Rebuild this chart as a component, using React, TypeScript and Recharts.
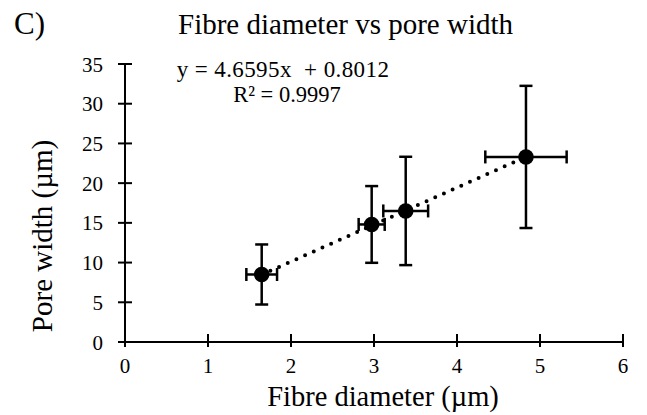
import React from 'react';
import { ScatterChart, Scatter, XAxis, YAxis, ErrorBar, ReferenceLine, Label } from 'recharts';

const fibreDiameter = [1.647, 2.972, 3.382, 4.831];
const poreWidth = [8.5, 14.8, 16.5, 23.3];
const fibreDiameterErr = [0.185, 0.157, 0.27, 0.49];
const poreWidthErr = [3.78, 4.83, 6.82, 8.95];
const xTicks = [0, 1, 2, 3, 4, 5, 6];
const yTicks = [0, 5, 10, 15, 20, 25, 30, 35];
const trendSlope = 4.6595;
const trendIntercept = 0.8012;
const rSquared = 0.9997;
const chartTitle = 'Fibre diameter vs pore width';
const panelLabel = 'C)';
const xLabel = 'Fibre diameter (µm)';
const yLabel = 'Pore width (µm)';

const data = fibreDiameter.map((x, i) => ({
  x,
  y: poreWidth[i],
  ex: fibreDiameterErr[i],
  ey: poreWidthErr[i],
}));
const xLo = Math.min(...fibreDiameter);
const xHi = Math.max(...fibreDiameter);
const trendSegment = [
  { x: xLo, y: trendSlope * xLo + trendIntercept },
  { x: xHi, y: trendSlope * xHi + trendIntercept },
];

const FONT = "'Liberation Serif', 'Times New Roman', serif";
const txt = (size: number): React.CSSProperties => ({ fontFamily: FONT, fontSize: size, fill: '#000' });

const XTick = (props: any) => {
  const { x, y, payload } = props;
  return (
    <g>
      <line x1={x} x2={x} y1={y - 13} y2={y} stroke="#000" strokeWidth={2} />
      <text x={x} y={y + 26} textAnchor="middle" style={txt(21)}>
        {payload.value}
      </text>
    </g>
  );
};

const YTick = (props: any) => {
  const { x, y, payload } = props;
  return (
    <g>
      <line x1={x} x2={x + 14} y1={y} y2={y} stroke="#000" strokeWidth={2} />
      <text x={x - 15} y={y + 7.5} textAnchor="end" style={txt(21)}>
        {payload.value}
      </text>
    </g>
  );
};

const Marker = (props: any) => <circle cx={props.cx} cy={props.cy} r={7.8} fill="#000" />;

export default function App() {
  return (
    <div style={{ position: 'absolute', left: 0, top: 0, width: 647, height: 415, background: '#fff', fontFamily: FONT }}>
      <ScatterChart width={647} height={415} margin={{ top: 64, right: 24, bottom: 0, left: 0 }} style={{ fontFamily: FONT }}>
        <XAxis
          type="number"
          dataKey="x"
          domain={[0, 6]}
          ticks={xTicks}
          interval={0}
          height={73}
          tickSize={5}
          tickMargin={0}
          tickLine={false}
          tick={<XTick />}
          axisLine={{ stroke: '#000', strokeWidth: 2 }}
        >
          <Label
            content={() => (
              <text x={383} y={405.5} textAnchor="middle" style={txt(28.5)}>
                {xLabel}
              </text>
            )}
          />
        </XAxis>
        <YAxis
          type="number"
          dataKey="y"
          domain={[0, 35]}
          ticks={yTicks}
          interval={0}
          width={125}
          tickSize={7}
          tickMargin={0}
          tickLine={false}
          tick={<YTick />}
          axisLine={{ stroke: '#000', strokeWidth: 2 }}
        >
          <Label
            content={() => (
              <text x={52} y={236} transform="rotate(-90 52 236)" textAnchor="middle" style={txt(29)}>
                {yLabel}
              </text>
            )}
          />
        </YAxis>
        <ReferenceLine
          segment={trendSegment}
          stroke="#000"
          strokeWidth={4}
          strokeDasharray="0 9.5"
          strokeLinecap="round"
          ifOverflow="visible"
        />
        <Scatter data={data} fill="#000" shape={<Marker />} isAnimationActive={false}>
          <ErrorBar dataKey="ey" direction="y" width={6.5} stroke="#000" strokeWidth={2.5} isAnimationActive={false} />
          <ErrorBar dataKey="ex" direction="x" width={6.5} stroke="#000" strokeWidth={2.5} isAnimationActive={false} />
        </Scatter>
      </ScatterChart>
      <svg width={647} height={415} style={{ position: 'absolute', left: 0, top: 0, pointerEvents: 'none' }}>
        <text x={14} y={34} style={txt(31)}>{panelLabel}</text>
        <text x={178} y={34} style={txt(29)}>{chartTitle}</text>
        <text x={283} y={77} textAnchor="middle" style={{ ...txt(23), whiteSpace: 'pre', letterSpacing: 0.4 }}>
          {`y = ${trendSlope}x  + ${trendIntercept}`}
        </text>
        <text x={287} y={102} textAnchor="middle" style={txt(22.5)}>
          {`R² = ${rSquared}`}
        </text>
      </svg>
    </div>
  );
}
